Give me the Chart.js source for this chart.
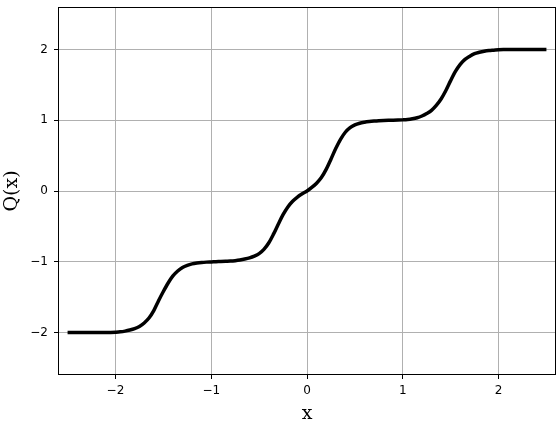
<!DOCTYPE html>
<html>
<head>
<meta charset="utf-8">
<script src="https://cdn.jsdelivr.net/npm/chart.js@4.4.1/dist/chart.umd.min.js"></script>
<style>
  html, body { margin: 0; padding: 0; background: #fff; }
  #wrap { width: 560px; height: 423px; }
</style>
</head>
<body>
<div id="wrap"><canvas id="c" width="560" height="423"></canvas></div>
<script>
// ---- data ----
const xValues = [
  -2.50, -2.45, -2.40, -2.35, -2.30, -2.25, -2.20, -2.15, -2.10, -2.05,
  -2.00, -1.95, -1.90, -1.85, -1.80, -1.75, -1.70, -1.65, -1.60, -1.55,
  -1.50, -1.45, -1.40, -1.35, -1.30, -1.25, -1.20, -1.15, -1.10, -1.05,
  -1.00, -0.95, -0.90, -0.85, -0.80, -0.75, -0.70, -0.65, -0.60, -0.55,
  -0.50, -0.45, -0.40, -0.35, -0.30, -0.25, -0.20, -0.15, -0.10, -0.05,
   0.00,
   0.05,  0.10,  0.15,  0.20,  0.25,  0.30,  0.35,  0.40,  0.45,  0.50,
   0.55,  0.60,  0.65,  0.70,  0.75,  0.80,  0.85,  0.90,  0.95,  1.00,
   1.05,  1.10,  1.15,  1.20,  1.25,  1.30,  1.35,  1.40,  1.45,  1.50,
   1.55,  1.60,  1.65,  1.70,  1.75,  1.80,  1.85,  1.90,  1.95,  2.00,
   2.05,  2.10,  2.15,  2.20,  2.25,  2.30,  2.35,  2.40,  2.45,  2.50
];
const qValues = [
  -2.000, -2.000, -2.000, -2.000, -2.000, -2.000, -2.000, -2.000, -2.000, -1.998,
  -1.995, -1.990, -1.980, -1.965, -1.945, -1.915, -1.865, -1.795, -1.690, -1.550,
  -1.420, -1.300, -1.200, -1.130, -1.080, -1.050, -1.030, -1.018, -1.010, -1.005,
  -1.002, -0.999, -0.996, -0.993, -0.990, -0.984, -0.975, -0.962, -0.945, -0.920,
  -0.885, -0.825, -0.735, -0.610, -0.470, -0.335, -0.225, -0.145, -0.085, -0.040,
   0.000,
   0.050,  0.110,  0.190,  0.305,  0.450,  0.600,  0.730,  0.830,  0.895,  0.935,
   0.958,  0.972,  0.982,  0.989,  0.994,  0.997,  0.999,  1.000,  1.002,  1.005,
   1.010,  1.020,  1.035,  1.060,  1.095,  1.140,  1.210,  1.300,  1.420,  1.560,
   1.690,  1.790,  1.860,  1.905,  1.940,  1.960,  1.975,  1.985,  1.990,  1.995,
   1.998,  2.000,  2.000,  2.000,  2.000,  2.000,  2.000,  2.000,  2.000,  2.000
];
const xTickValues = [-2, -1, 0, 1, 2];
const xTickLabels = ['\u22122', '\u22121', '0', '1', '2'];
const yTickValues = [-2, -1, 0, 1, 2];
const yTickLabels = ['\u22122', '\u22121', '0', '1', '2'];
const xLimits = [-2.6, 2.6];
const yLimits = [-2.6, 2.6];
const xTitle = 'x';
const yTitle = 'Q(x)';

const points = xValues.map((x, i) => ({ x: x, y: qValues[i] }));

const framePlugin = {
  id: 'frame',
  afterDatasetsDraw(chart) {
    const a = chart.chartArea;
    const ctx = chart.ctx;
    ctx.save();
    ctx.strokeStyle = '#000';
    ctx.lineWidth = 1;
    const l = Math.round(a.left) + 0.5, t = Math.round(a.top) + 0.5;
    const r = Math.round(a.right) - 0.5, b = Math.round(a.bottom) - 0.5;
    ctx.strokeRect(l, t, r - l, b - t);
    ctx.restore();
  }
};

const tickFont = { family: 'DejaVu Sans', size: 12 };
const titleFont = { family: 'DejaVu Serif', size: 19 };

new Chart(document.getElementById('c'), {
  type: 'scatter',
  data: {
    datasets: [{
      data: points,
      showLine: true,
      borderColor: '#000',
      borderWidth: 3.5,
      pointRadius: 0,
      cubicInterpolationMode: 'monotone',
      fill: false
    }]
  },
  options: {
    responsive: false,
    animation: false,
    devicePixelRatio: 1,
    layout: { padding: { left: 0, right: 4, top: 7, bottom: 0 } },
    plugins: { legend: { display: false }, tooltip: { enabled: false } },
    scales: {
      x: {
        type: 'linear',
        position: 'bottom',
        min: xLimits[0],
        max: xLimits[1],
        afterBuildTicks: (s) => { s.ticks = xTickValues.map(v => ({ value: v })); },
        afterFit: (s) => { s.height = 48; s.paddingLeft = 0; s.paddingRight = 0; },
        border: { display: false },
        grid: { color: '#b0b0b0', lineWidth: 1, tickColor: '#000', tickLength: 4, drawTicks: true },
        ticks: {
          color: '#000', font: tickFont, padding: 5, maxRotation: 0,
          callback: (v, i) => xTickLabels[i]
        },
        title: { display: true, text: xTitle, color: '#000', font: titleFont, padding: { top: 0, bottom: -2 } }
      },
      y: {
        type: 'linear',
        position: 'left',
        min: yLimits[0],
        max: yLimits[1],
        afterBuildTicks: (s) => { s.ticks = yTickValues.map(v => ({ value: v })); },
        afterFit: (s) => { s.width = 58; s.paddingTop = 0; s.paddingBottom = 0; },
        border: { display: false },
        grid: { color: '#b0b0b0', lineWidth: 1, tickColor: '#000', tickLength: 4, drawTicks: true },
        ticks: {
          color: '#000', font: tickFont, padding: 6,
          callback: (v, i) => yTickLabels[i]
        },
        title: { display: true, text: yTitle, color: '#000', font: titleFont, padding: { top: 1, bottom: 0 } }
      }
    }
  },
  plugins: [framePlugin]
});
</script>
</body>
</html>
